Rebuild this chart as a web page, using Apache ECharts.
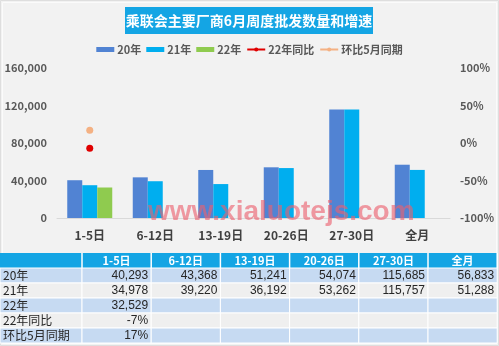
<!DOCTYPE html>
<html>
<head>
<meta charset="utf-8">
<script src="https://cdn.jsdelivr.net/npm/echarts@6/dist/echarts.min.js"></script>
<style>
  html, body { margin: 0; padding: 0; background: #f2f2f2; }
  #chart { width: 499px; height: 346px; }
</style>
</head>
<body>
<div id="chart"></div>
<script>
// Weekly wholesale volumes of major manufacturers in June, with growth rates
const categories = ['1-5日', '6-12日', '13-19日', '20-26日', '27-30日', '全月'];
const sales2020 = [40293, 43368, 51241, 54074, 115685, 56833];
const sales2021 = [34978, 39220, 36192, 53262, 115757, 51288];
const sales2022 = [32529, null, null, null, null, null];
const yoy2022 = [-0.07, null, null, null, null, null];
const vsMay = [0.17, null, null, null, null, null];
const leftTicks = [0, 40000, 80000, 120000, 160000];
const rightTicks = [-1, -0.5, 0, 0.5, 1];

const FONT = '"Noto Sans CJK SC", "Noto Sans", sans-serif';
const C20 = '#5183d3', C21 = '#00aeef', C22 = '#8fcb4f', CRED = '#e00000', CORG = '#f4b183';

const fmtNum = v => (v == null ? '' : v.toLocaleString('en-US'));
const fmtPct = v => (v == null ? '' : Math.round(v * 100) + '%');

// table rows: label + formatted cells
const tableRows = [
  ['20年', sales2020.map(fmtNum)],
  ['21年', sales2021.map(fmtNum)],
  ['22年', sales2022.map(fmtNum)],
  ['22年同比', yoy2022.map(fmtPct)],
  ['环比5月同期', vsMay.map(fmtPct)]
];

const graphics = [];
// outer frame
graphics.push({ type: 'rect', shape: { x: 0.5, y: 0.5, width: 498, height: 345 }, style: { fill: 'none', stroke: '#dedede', lineWidth: 1 }, silent: true });
graphics.push({ type: 'rect', shape: { x: 2.5, y: 2.5, width: 494, height: 341 }, style: { fill: 'none', stroke: '#fbfbfb', lineWidth: 1 }, silent: true });
// title banner
graphics.push({ type: 'rect', shape: { x: 125, y: 7, width: 248, height: 27 }, style: { fill: '#14a5e4' }, silent: true });
graphics.push({ type: 'text', x: 249, y: 21, style: { text: '乘联会主要厂商6月周度批发数量和增速', fill: '#fff', font: 'bold 14px ' + FONT, textAlign: 'center', textVerticalAlign: 'middle' }, silent: true });

// data table
const labelW = 82, colW = 69.2, headY = 253, rowH = 15;
graphics.push({ type: 'rect', shape: { x: 0, y: headY, width: labelW + colW * 6, height: rowH }, style: { fill: '#14a5e4' }, silent: true });
categories.forEach((c, i) => {
  const x = labelW + colW * i;
  graphics.push({ type: 'text', x: x + colW / 2, y: headY + rowH / 2, style: { text: c, fill: '#fff', font: 'bold 11px ' + FONT, textAlign: 'center', textVerticalAlign: 'middle' }, silent: true });
});
tableRows.forEach((r, ri) => {
  const y = headY + rowH * (ri + 1);
  const fill = ri % 2 === 0 ? '#c6daf2' : '#efefef';
  graphics.push({ type: 'rect', shape: { x: 0, y: y, width: labelW, height: rowH }, style: { fill: fill, stroke: '#ffffff', lineWidth: 1 }, silent: true });
  graphics.push({ type: 'text', x: 3, y: y + rowH / 2, style: { text: r[0], fill: '#262626', font: '12px ' + FONT, textAlign: 'left', textVerticalAlign: 'middle' }, silent: true });
  r[1].forEach((v, ci) => {
    const x = labelW + colW * ci;
    graphics.push({ type: 'rect', shape: { x: x, y: y, width: colW, height: rowH }, style: { fill: fill, stroke: '#ffffff', lineWidth: 1 }, silent: true });
    if (v) graphics.push({ type: 'text', x: x + colW - 3, y: y + rowH / 2, style: { text: v, fill: '#262626', font: '12px "Liberation Sans", Arial, sans-serif', textAlign: 'right', textVerticalAlign: 'middle' }, silent: true });
  });
});
// header column separators
for (let i = 0; i <= 6; i++) {
  const x = labelW + colW * i;
  graphics.push({ type: 'line', shape: { x1: x, y1: headY, x2: x, y2: headY + rowH }, style: { stroke: '#ffffff', lineWidth: 1.5 }, silent: true });
}
// site mark across the plot
graphics.push({ type: 'text', x: 148, y: 226, z: 100, style: { text: 'www.xialuotejs.com', fill: 'rgba(236,96,110,0.62)', font: 'bold 28px "Liberation Sans", Arial, sans-serif', textAlign: 'left', textVerticalAlign: 'bottom' }, silent: true });

const chart = echarts.init(document.getElementById('chart'));
chart.setOption({
  backgroundColor: '#f2f2f2',
  animation: false,
  textStyle: { fontFamily: FONT },
  legend: {
    top: 39, left: 'center', itemWidth: 18, itemHeight: 5, itemGap: 5,
    textStyle: { fontFamily: FONT, fontSize: 11, fontWeight: 'bold', color: '#595959', padding: [0, 0, 0, -2] },
    data: [
      { name: '20年', icon: 'rect' },
      { name: '21年', icon: 'rect' },
      { name: '22年', icon: 'rect' },
      { name: '22年同比' },
      { name: '环比5月同期' }
    ]
  },
  grid: { left: 57, right: 49, top: 68, bottom: 128 },
  xAxis: {
    type: 'category', data: categories,
    axisLine: { lineStyle: { color: '#d9d9d9' } },
    axisTick: { show: false },
    axisLabel: { margin: 11, fontFamily: FONT, fontSize: 12, fontWeight: 'bold', color: '#404040' }
  },
  yAxis: [
    {
      type: 'value', min: leftTicks[0], max: leftTicks[leftTicks.length - 1], interval: leftTicks[1] - leftTicks[0],
      splitLine: { show: false }, axisLine: { show: false }, axisTick: { show: false },
      axisLabel: { margin: 10, fontFamily: FONT, fontSize: 11, fontWeight: 'bold', color: '#595959', formatter: v => v.toLocaleString('en-US') }
    },
    {
      type: 'value', min: rightTicks[0], max: rightTicks[rightTicks.length - 1], interval: rightTicks[1] - rightTicks[0],
      splitLine: { show: false }, axisLine: { show: false }, axisTick: { show: false },
      axisLabel: { margin: 10, fontFamily: FONT, fontSize: 11, fontWeight: 'bold', color: '#595959', formatter: v => Math.round(v * 100) + '%' }
    }
  ],
  series: [
    { name: '20年', type: 'bar', data: sales2020, barWidth: 15, barGap: '0%', itemStyle: { color: C20 } },
    { name: '21年', type: 'bar', data: sales2021, barWidth: 15, barGap: '0%', itemStyle: { color: C21 } },
    { name: '22年', type: 'bar', data: sales2022, barWidth: 15, barGap: '0%', itemStyle: { color: C22 } },
    { name: '22年同比', type: 'line', yAxisIndex: 1, data: yoy2022, symbol: 'circle', symbolSize: 7, showAllSymbol: true, itemStyle: { color: CRED }, lineStyle: { color: CRED, width: 2 } },
    { name: '环比5月同期', type: 'line', yAxisIndex: 1, data: vsMay, symbol: 'circle', symbolSize: 7, showAllSymbol: true, itemStyle: { color: CORG }, lineStyle: { color: CORG, width: 2 } }
  ],
  graphic: graphics
});
</script>
</body>
</html>
